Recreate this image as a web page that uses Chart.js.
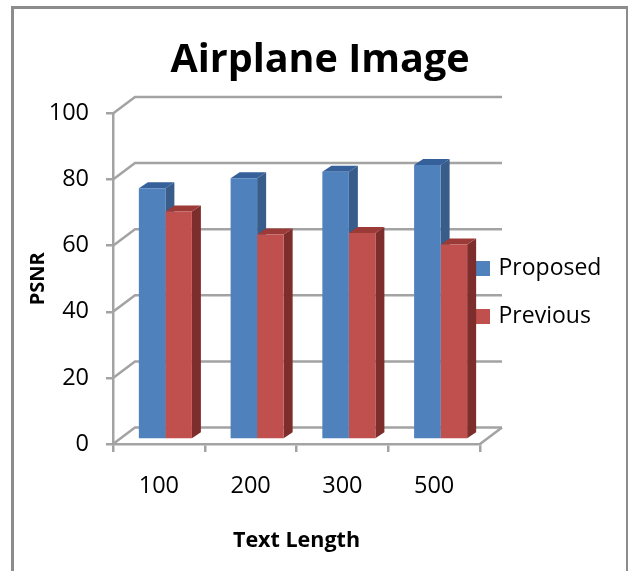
<!DOCTYPE html>
<html>
<head>
<meta charset="utf-8">
<title>Airplane Image</title>
<script src="https://cdn.jsdelivr.net/npm/chart.js@4"></script>
<style>
  html, body { margin: 0; padding: 0; background: #fff; }
  #wrap { position: relative; width: 628px; height: 571px; overflow: hidden; }
  #frame { position: absolute; left: 11px; top: 6px; width: 612px; height: 600px; border: 3px solid #8c8c8c; }
  canvas { position: absolute; left: 0; top: 0; }
</style>
</head>
<body>
<div id="wrap">
  <div id="frame"></div>
  <canvas id="chart" width="628" height="571"></canvas>
</div>
<script>
'use strict';
const categories = ['100', '200', '300', '500'];
const proposed = [76, 79, 81, 83];
const previous = [69, 62, 62.5, 59];
const yTicks = [0, 20, 40, 60, 80, 100];

const FONT = '"Open Sans", Lato, sans-serif';
const GRAY = '#a3a3a3';
const WALL_DX = 22, WALL_DY = -16.5;     // offset of the back wall
const BAR_DX = 6.5, BAR_DY = -4.5;       // bars stand inside the floor
const DEPTH_X = 9, DEPTH_Y = -6;         // bar depth

function poly(ctx, pts, fill){
  ctx.fillStyle = fill;
  ctx.beginPath();
  pts.forEach((p, i) => i ? ctx.lineTo(p[0], p[1]) : ctx.moveTo(p[0], p[1]));
  ctx.closePath();
  ctx.fill();
}

const fake3d = {
  id: 'fake3d',
  afterLayout(chart){
    // legend sits on top of the wall's right edge, title is off centre
    const lg = chart.legend;
    const w = lg.width, h = lg.height;
    lg.left = 453; lg.right = 453 + w;
    lg.top = 232; lg.bottom = 232 + h;
    chart.titleBlock.left = 20;
    chart.titleBlock.right = 620;
  },
  beforeDatasetsDraw(chart){
    const { ctx, chartArea: a, scales: { y } } = chart;
    ctx.save();
    ctx.strokeStyle = GRAY;
    ctx.lineWidth = 2.5;
    yTicks.forEach(t => {
      const py = y.getPixelForValue(t);
      ctx.beginPath();
      ctx.moveTo(a.left, py);
      ctx.lineTo(a.left + WALL_DX, py + WALL_DY);
      ctx.lineTo(a.right + WALL_DX, py + WALL_DY);
      ctx.stroke();
    });
    ctx.beginPath();
    ctx.moveTo(a.right, a.bottom);
    ctx.lineTo(a.right + WALL_DX, a.bottom + WALL_DY);
    ctx.stroke();
    ctx.restore();

    // side and top faces first, left series before right so the red front covers the blue side
    ctx.save();
    ctx.translate(BAR_DX, BAR_DY);
    chart.data.datasets.forEach((ds, i) => {
      chart.getDatasetMeta(i).data.forEach(b => {
        const l = b.x - b.width / 2, r = b.x + b.width / 2;
        poly(ctx, [[r, b.y], [r + DEPTH_X, b.y + DEPTH_Y], [r + DEPTH_X, b.base + DEPTH_Y], [r, b.base]], ds.sideColor);
        poly(ctx, [[l, b.y], [l + DEPTH_X, b.y + DEPTH_Y], [r + DEPTH_X, b.y + DEPTH_Y], [r, b.y]], ds.topColor);
      });
    });
    ctx.restore();
  },
  beforeDatasetDraw(chart){
    chart.ctx.save();
    chart.ctx.translate(BAR_DX, BAR_DY);
  },
  afterDatasetDraw(chart){
    chart.ctx.restore();
  }
};

new Chart(document.getElementById('chart'), {
  type: 'bar',
  data: {
    labels: categories,
    datasets: [
      { label: 'Proposed', data: proposed, backgroundColor: '#4f81bd', sideColor: '#385d8a', topColor: '#36609a' },
      { label: 'Previous', data: previous, backgroundColor: '#c0504d', sideColor: '#7d2e2c', topColor: '#9c3a37' }
    ]
  },
  plugins: [fake3d],
  options: {
    responsive: false,
    animation: false,
    clip: false,
    layout: { padding: { left: 26, right: 148, top: 0, bottom: 0 } },
    datasets: { bar: { barPercentage: 1, categoryPercentage: 0.578 } },
    plugins: {
      tooltip: { enabled: false },
      title: {
        display: true,
        text: 'Airplane Image',
        color: '#000',
        font: { family: FONT, size: 39.5, weight: 'bold' },
        padding: { top: 37, bottom: 29 }
      },
      legend: {
        display: true,
        position: 'chartArea',
        align: 'start',
        z: 1,
        labels: {
          // small box plus a thick same-colour stroke keeps the text close to the swatch
          boxWidth: 9,
          boxHeight: 9,
          padding: 25,
          color: '#000',
          font: { family: FONT, size: 23 },
          generateLabels(chart){
            return Chart.defaults.plugins.legend.labels.generateLabels(chart).map(it => {
              it.lineWidth = 6;
              it.strokeStyle = it.fillStyle;
              return it;
            });
          }
        }
      }
    },
    scales: {
      x: {
        afterFit(s){ s.height = 127; },
        grid: { drawOnChartArea: false, drawTicks: true, tickLength: 8, color: GRAY, lineWidth: 2.5, offset: true },
        border: { color: GRAY, width: 2.5 },
        ticks: { color: '#000', padding: 20, maxRotation: 0, font: { family: FONT, size: 23.5 } },
        title: { display: true, text: 'Text Length', color: '#000', padding: { top: 20, bottom: 17 }, font: { family: FONT, size: 21.5, weight: 'bold' } }
      },
      y: {
        min: 0,
        max: 100,
        afterFit(s){ s.width = 87; },
        afterBuildTicks(s){ s.ticks = yTicks.map(v => ({ value: v })); },
        grid: { drawOnChartArea: false, drawTicks: true, tickLength: 7, color: GRAY, lineWidth: 2.5 },
        border: { color: GRAY, width: 2.5 },
        ticks: { color: '#000', padding: 17, font: { family: FONT, size: 23.5 } },
        title: { display: true, text: 'PSNR', color: '#000', padding: { top: 0, bottom: 14 }, font: { family: FONT, size: 20, weight: 'bold' } }
      }
    }
  }
});
</script>
</body>
</html>
